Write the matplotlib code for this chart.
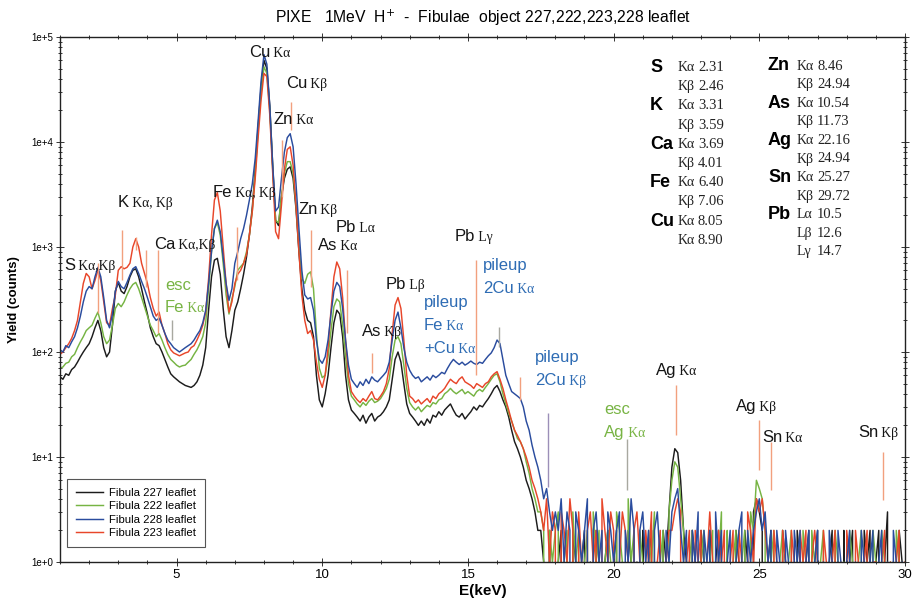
import numpy as np
import matplotlib
matplotlib.use("Agg")
import matplotlib.pyplot as plt
from matplotlib.ticker import MultipleLocator, LogLocator, NullFormatter

SANS = ["Liberation Sans", "DejaVu Sans"]
SERIF = ["Liberation Serif", "DejaVu Serif"]

# channel grid of the spectra (keV)
E_MIN, E_STEP = 1.0, 0.1

# counts, one value per 0.1 keV from 1.0 to 30.0 keV
counts_227 = [
    58, 55, 62, 60, 68, 72, 80, 90, 100, 110,
    120, 140, 170, 200, 160, 110, 90, 100, 180, 380,
    460, 380, 360, 420, 520, 600, 620, 520, 400, 300,
    230, 170, 140, 120, 115, 100, 85, 72, 62, 58,
    55, 52, 50, 48, 47, 46, 48, 52, 60, 75,
    110, 250, 520, 750, 780, 550, 260, 140, 110, 160,
    250, 300, 400, 550, 800, 1300, 2400, 5500, 14000, 33000,
    60000, 50000, 22000, 6000, 1800, 1600, 3000, 4500, 5500, 5800,
    4500, 2300, 900, 400, 250, 200, 190, 140, 60, 35,
    30, 40, 60, 110, 190, 250, 230, 140, 60, 35,
    28, 26, 24, 22, 25, 21, 24, 26, 22, 24,
    25, 27, 30, 35, 55, 85, 100, 80, 50, 32,
    26, 24, 22, 20, 22, 20, 23, 21, 25, 24,
    27, 25, 28, 30, 32, 28, 25, 24, 26, 23,
    25, 27, 30, 28, 31, 30, 33, 36, 40, 45,
    48, 42, 35, 30, 24, 18, 14, 12, 10, 8,
    6, 5, 4, 3, 2, 2, 1, 0, 2, 0,
    0, 1, 2, 0, 1, 0, 2, 1, 0, 1,
    2, 0, 1, 0, 2, 1, 0, 1, 2, 0,
    1, 2, 0, 1, 0, 2, 1, 0, 1, 0,
    2, 0, 1, 2, 0, 1, 0, 2, 1, 3,
    8, 12, 11, 6, 2, 1, 0, 2, 1, 0,
    2, 1, 0, 2, 0, 1, 2, 0, 1, 0,
    1, 0, 2, 1, 0, 2, 1, 0, 3, 4,
    3, 2, 0, 1, 2, 0, 1, 0, 2, 1,
    0, 1, 0, 2, 1, 0, 1, 2, 0, 1,
    2, 0, 1, 0, 1, 2, 0, 1, 0, 2,
    0, 1, 2, 0, 1, 0, 2, 1, 2, 0,
    1, 2, 0, 1, 3, 0, 1, 0, 2, 1,
    0,
]
counts_222 = [
    70, 72, 78, 80, 90, 95, 110, 125, 140, 160,
    170, 180, 210, 240, 190, 140, 120, 130, 180, 260,
    290, 270, 300, 350, 400, 440, 460, 400, 330, 270,
    220, 180, 160, 140, 150, 130, 110, 95, 85, 80,
    75, 72, 74, 75, 80, 85, 95, 105, 120, 140,
    190, 400, 900, 1500, 1700, 1300, 700, 350, 230, 320,
    420, 600, 650, 700, 900, 1300, 2200, 5000, 13000, 30000,
    52000, 45000, 20000, 5500, 1800, 1700, 3000, 5000, 6500, 6500,
    5000, 2500, 1000, 500, 450, 550, 580, 400, 150, 70,
    57, 60, 90, 160, 270, 320, 300, 180, 90, 50,
    38, 35, 32, 30, 33, 31, 34, 36, 33, 34,
    36, 40, 45, 55, 90, 130, 140, 120, 75, 45,
    33, 30, 28, 30, 27, 29, 31, 30, 33, 32,
    35, 36, 40, 42, 45, 42, 40, 42, 44, 40,
    42, 40, 38, 42, 44, 42, 46, 50, 55, 60,
    62, 52, 40, 32, 26, 22, 18, 15, 14, 12,
    9, 7, 5, 4, 3, 3, 2, 0, 2, 1,
    2, 3, 0, 1, 2, 0, 3, 1, 2, 0,
    1, 2, 0, 3, 1, 2, 0, 1, 2, 1,
    0, 3, 2, 1, 0, 4, 1, 2, 0, 2,
    1, 0, 2, 1, 3, 0, 1, 2, 0, 3,
    6, 9, 8, 4, 2, 0, 1, 2, 0, 1,
    1, 2, 0, 1, 2, 0, 1, 3, 0, 2,
    0, 1, 2, 0, 1, 2, 0, 3, 2, 6,
    5, 4, 2, 0, 1, 2, 0, 1, 2, 0,
    1, 2, 0, 1, 0, 2, 1, 0, 2, 1,
    0, 1, 2, 0, 1, 0, 2, 1, 0, 1,
    0, 2, 1, 0, 1, 2, 0, 1, 0, 2,
    1, 0, 2, 1, 0, 1, 0, 2, 1, 0,
    0,
]
counts_228 = [
    105, 100, 115, 110, 125, 140, 170, 220, 300, 380,
    420, 400, 520, 640, 520, 330, 200, 170, 230, 380,
    470, 420, 400, 460, 540, 620, 650, 560, 470, 400,
    330, 270, 220, 200, 210, 180, 150, 130, 120, 110,
    105, 100, 105, 110, 115, 120, 130, 145, 160, 190,
    250, 450, 900, 1500, 1800, 1400, 800, 450, 310, 400,
    700, 900, 1200, 1500, 2000, 2800, 4000, 7000, 16000, 38000,
    68000, 55000, 22000, 6000, 2200, 2400, 4500, 8000, 11000, 12000,
    9000, 4000, 1500, 600, 350, 320, 330, 250, 130, 85,
    78, 90, 130, 230, 380, 460, 420, 260, 130, 75,
    55, 50, 46, 52, 48, 55, 50, 58, 54, 52,
    56, 60, 65, 80, 130, 200, 240, 170, 110, 80,
    67, 60, 56, 58, 52, 55, 58, 54, 60, 57,
    60, 64, 62, 70, 78, 85, 80, 76, 80, 75,
    78, 82, 78, 76, 80, 78, 85, 92, 98, 110,
    130, 120, 85, 60, 50, 42, 40, 38, 36, 30,
    22, 18, 13, 10, 8, 6, 4, 5, 3, 2,
    3, 2, 4, 1, 3, 2, 0, 3, 2, 1,
    2, 4, 0, 2, 3, 1, 2, 0, 3, 2,
    1, 2, 3, 0, 2, 1, 4, 2, 0, 2,
    3, 1, 2, 0, 2, 3, 1, 0, 2, 1,
    3, 4, 5, 2, 1, 2, 0, 2, 1, 3,
    0, 2, 1, 2, 0, 3, 1, 2, 0, 1,
    2, 0, 1, 2, 3, 0, 2, 1, 2, 3,
    4, 2, 3, 1, 2, 0, 2, 1, 0, 2,
    1, 0, 2, 1, 2, 0, 1, 2, 0, 1,
    2, 0, 1, 0, 2, 1, 0, 2, 1, 0,
    1, 2, 0, 1, 0, 2, 1, 0, 1, 2,
    0, 1, 2, 0, 1, 0, 2, 1, 0, 1,
    0,
]
counts_223 = [
    95, 100, 110, 120, 135, 160, 200, 300, 450, 560,
    520, 400, 480, 600, 480, 300, 190, 180, 260, 350,
    600, 650, 620, 640, 700, 1000, 1200, 1000, 700, 560,
    450, 330, 260, 220, 240, 180, 150, 120, 105, 98,
    95, 92, 95, 98, 100, 110, 115, 130, 150, 180,
    240, 500, 1300, 2800, 3300, 2200, 1000, 450, 240, 300,
    450, 550, 600, 700, 850, 1300, 2200, 4500, 11000, 25000,
    45000, 42000, 18000, 5000, 1400, 1200, 2500, 5500, 8500, 9000,
    6000, 2500, 900, 350, 200, 150, 160, 130, 80, 55,
    46, 60, 110, 250, 520, 720, 620, 330, 130, 60,
    42, 38, 35, 33, 36, 34, 38, 42, 36, 35,
    38, 42, 50, 70, 150, 280, 330, 260, 130, 60,
    38, 36, 33, 35, 32, 34, 36, 33, 38, 36,
    40, 42, 45, 50, 55, 52, 50, 55, 58, 52,
    50, 48, 45, 50, 48, 46, 50, 52, 58, 62,
    65, 55, 45, 35, 28, 22, 18, 16, 14, 12,
    10, 8, 6, 5, 4, 3, 2, 4, 1, 3,
    2, 0, 3, 2, 1, 4, 2, 0, 3, 1,
    0, 2, 3, 1, 2, 0, 4, 2, 1, 3,
    2, 0, 1, 3, 2, 1, 0, 2, 3, 1,
    0, 2, 1, 3, 0, 1, 2, 0, 1, 2,
    2, 3, 4, 3, 0, 1, 2, 0, 2, 1,
    2, 0, 1, 3, 1, 0, 2, 1, 2, 0,
    1, 2, 0, 2, 1, 0, 3, 2, 1, 4,
    3, 4, 2, 1, 0, 2, 1, 0, 2, 1,
    0, 2, 1, 0, 2, 1, 2, 0, 1, 2,
    1, 0, 2, 1, 0, 1, 2, 0, 1, 0,
    2, 1, 0, 2, 1, 0, 1, 2, 0, 1,
    1, 0, 1, 2, 0, 1, 0, 1, 2, 0,
    1,
]

series_names = ["Fibula 227 leaflet", "Fibula 222 leaflet",
                "Fibula 228 leaflet", "Fibula 223 leaflet"]
series_counts = [counts_227, counts_222, counts_228, counts_223]
series_colors = ["#1c1c1c", "#76b443", "#2a4c9e", "#e8462a"]
draw_order = [0, 1, 3, 2]

# marker lines: energy (keV), lower and upper count
mark_e = [2.30, 3.13, 3.61, 3.95, 4.36, 4.84, 7.07, 8.62, 8.93, 9.61, 10.85,
          11.71, 15.28, 16.07, 16.79, 17.75, 20.46, 22.14, 24.99, 25.40, 29.24]
mark_lo = [235, 485, 936, 416, 152, 130, 485, 2990, 13000, 416, 152,
           63, 60, 112, 35, 5.2, 4.9, 16.2, 7.5, 4.9, 3.9]
mark_hi = [705, 1452, 1245, 936, 936, 202, 1550, 10440, 24000, 1452, 604,
           98, 752, 173, 58, 26, 15, 48.5, 22.5, 13.9, 11.2]
mark_kind = ["r", "r", "r", "r", "r", "g", "r", "r", "r", "r", "r",
             "r", "r", "g", "r", "p", "g", "r", "r", "r", "r"]
mark_colors = {"r": "#f2a07e", "g": "#a8a8a0", "p": "#9c8fb8"}

# peak labels: element, line, energy, count, colour
label_elem = ["S", "K", "Ca", "esc", "Fe", "Fe", "Cu", "Cu", "Zn", "Zn", "Pb",
              "As", "As", "Pb", "Pb", "pileup", "2Cu", "pileup", "Fe", "+Cu",
              "pileup", "2Cu", "esc", "Ag", "Ag", "Ag", "Sn", "Sn"]
label_line = ["Kα,Kβ", "Kα, Kβ", "Kα,Kβ", "", "Kα", "Kα, Kβ", "Kα", "Kβ", "Kα",
              "Kβ", "Lα", "Kα", "Kβ", "Lβ", "Lγ", "", "Kα", "", "Kα", "Kα",
              "", "Kβ", "", "Kα", "Kα", "Kβ", "Kα", "Kβ"]
label_e = [1.14, 2.99, 4.23, 4.60, 4.60, 6.25, 7.49, 8.76, 8.34, 9.17, 10.47,
           9.85, 11.36, 12.19, 14.56, 15.52, 15.52, 13.49, 13.49, 13.49,
           17.30, 17.30, 19.67, 19.67, 21.45, 24.20, 25.09, 28.39]
label_y = [600, 2400, 957, 389, 240, 2990, 64500, 32700, 14800, 2060, 1390,
           936, 142, 398, 1140, 600, 366, 268, 162, 98,
           80, 48, 25.7, 15.5, 60, 27.4, 13.9, 15.5]
label_kind = ["k", "k", "k", "g", "g", "k", "k", "k", "k", "k", "k",
              "k", "k", "k", "k", "b", "b", "b", "b", "b",
              "b", "b", "g", "g", "k", "k", "k", "k"]
label_colors = {"k": "#151515", "g": "#78b444", "b": "#2e6cb4"}

# energy table, two columns
table1_elem = ["S", "", "K", "", "Ca", "", "Fe", "", "Cu", ""]
table1_line = ["Kα", "Kβ", "Kα", "Kβ", "Kα", "Kβ", "Kα", "Kβ", "Kα", "Kα"]
table1_val = ["2.31", "2.46", "3.31", "3.59", "3.69", "4.01", "6.40", "7.06",
              "8.05", "8.90"]
table2_elem = ["Zn", "", "As", "", "Ag", "", "Sn", "", "Pb", "", ""]
table2_line = ["Kα", "Kβ", "Kα", "Kβ", "Kα", "Kβ", "Kα", "Kβ", "Lα", "Lβ", "Lγ"]
table2_val = ["8.46", "24.94", "10.54", "11.73", "22.16", "24.94", "25.27",
              "29.72", "10.5", "12.6", "14.7"]

y_ticks = [1, 10, 100, 1000, 10000, 100000]
y_tick_labels = ["1e+0", "1e+1", "1e+2", "1e+3", "1e+4", "1e+5"]
x_ticks = [5, 10, 15, 20, 25, 30]

W, H = 914, 606
fig = plt.figure(figsize=(W / 100, H / 100), dpi=100)
ax = fig.add_axes([60 / W, 1 - 562 / H, 845 / W, 525 / H])

energy = E_MIN + E_STEP * np.arange(len(counts_227))
handles = {}
for i in draw_order:
    (ln,) = ax.plot(energy, series_counts[i], color=series_colors[i], lw=1.05,
                    label=series_names[i])
    handles[i] = ln

ax.vlines(mark_e, mark_lo, mark_hi, colors=[mark_colors[k] for k in mark_kind],
          lw=1.0, zorder=5)

ax.set_yscale("log")
ax.set_xlim(1, 30)
ax.set_ylim(1, 1e5)
ax.set_xticks(x_ticks)
ax.set_xticklabels([str(t) for t in x_ticks], fontsize=9.5, family=SANS)
ax.xaxis.set_minor_locator(MultipleLocator(1))
ax.set_yticks(y_ticks)
ax.set_yticklabels(y_tick_labels, fontsize=7, family=SANS)
ax.yaxis.set_minor_locator(LogLocator(base=10, subs=np.arange(2, 10)))
ax.yaxis.set_minor_formatter(NullFormatter())
ax.tick_params(which="both", direction="inout", top=True, right=True,
               width=0.7, color="#333333")
ax.tick_params(which="major", length=6, pad=2)
ax.tick_params(which="minor", length=3)
for sp in ax.spines.values():
    sp.set_linewidth(1.0)
    sp.set_color("#222222")

ax.set_xlabel("E(keV)", fontsize=11, fontweight="bold", family=SANS, labelpad=2)
ax.set_ylabel("Yield (counts)", fontsize=9.5, fontweight="bold", family=SANS, labelpad=8)
fig.text(483 / W, 1 - 18 / H,
         "PIXE   1MeV  H$^{+}$  -  Fibulae  object 227,222,223,228 leaflet",
         ha="center", va="center", fontsize=11.3, family=SANS)

# peak labels: element in sans, line in a smaller serif face
for el, li, e, y, k in zip(label_elem, label_line, label_e, label_y, label_kind):
    c = label_colors[k]
    t = ax.text(e, y, el, fontsize=12, family=SANS, color=c, zorder=6)
    if li:
        ax.annotate(" " + li, xy=(1, 0), xycoords=t, va="bottom", fontsize=9.8,
                    family=SERIF, color=c, zorder=6)

# energy table in the top right corner
def table(x_el, x_li, x_val, y0, dy, elems, lines, vals):
    for i, (el, li, v) in enumerate(zip(elems, lines, vals)):
        y = 1 - (y0 + i * dy) / H
        if el:
            fig.text(x_el / W, y, el, fontsize=13, fontweight="bold",
                     family=SANS, va="center")
        fig.text(x_li / W, y, li, fontsize=10, family=SERIF, va="center", color="#222222")
        fig.text(x_val / W, y, v, fontsize=10.5, family=SERIF, va="center", color="#222222")

table(650, 678, 698, 67.5, 19.2, table1_elem, table1_line, table1_val)
table(768, 797, 817, 66.0, 18.6, table2_elem, table2_line, table2_val)

leg = ax.legend([handles[i] for i in range(4)], series_names, loc="lower left",
                bbox_to_anchor=(0.008, 0.028), borderaxespad=0,
                frameon=True, fancybox=False, edgecolor="#555555", framealpha=1,
                handlelength=2.4, handletextpad=0.5, labelspacing=0.3,
                borderpad=0.8, prop={"family": SANS, "size": 8.2})
leg.get_frame().set_linewidth(0.8)

fig.savefig("out.png", dpi=100)
